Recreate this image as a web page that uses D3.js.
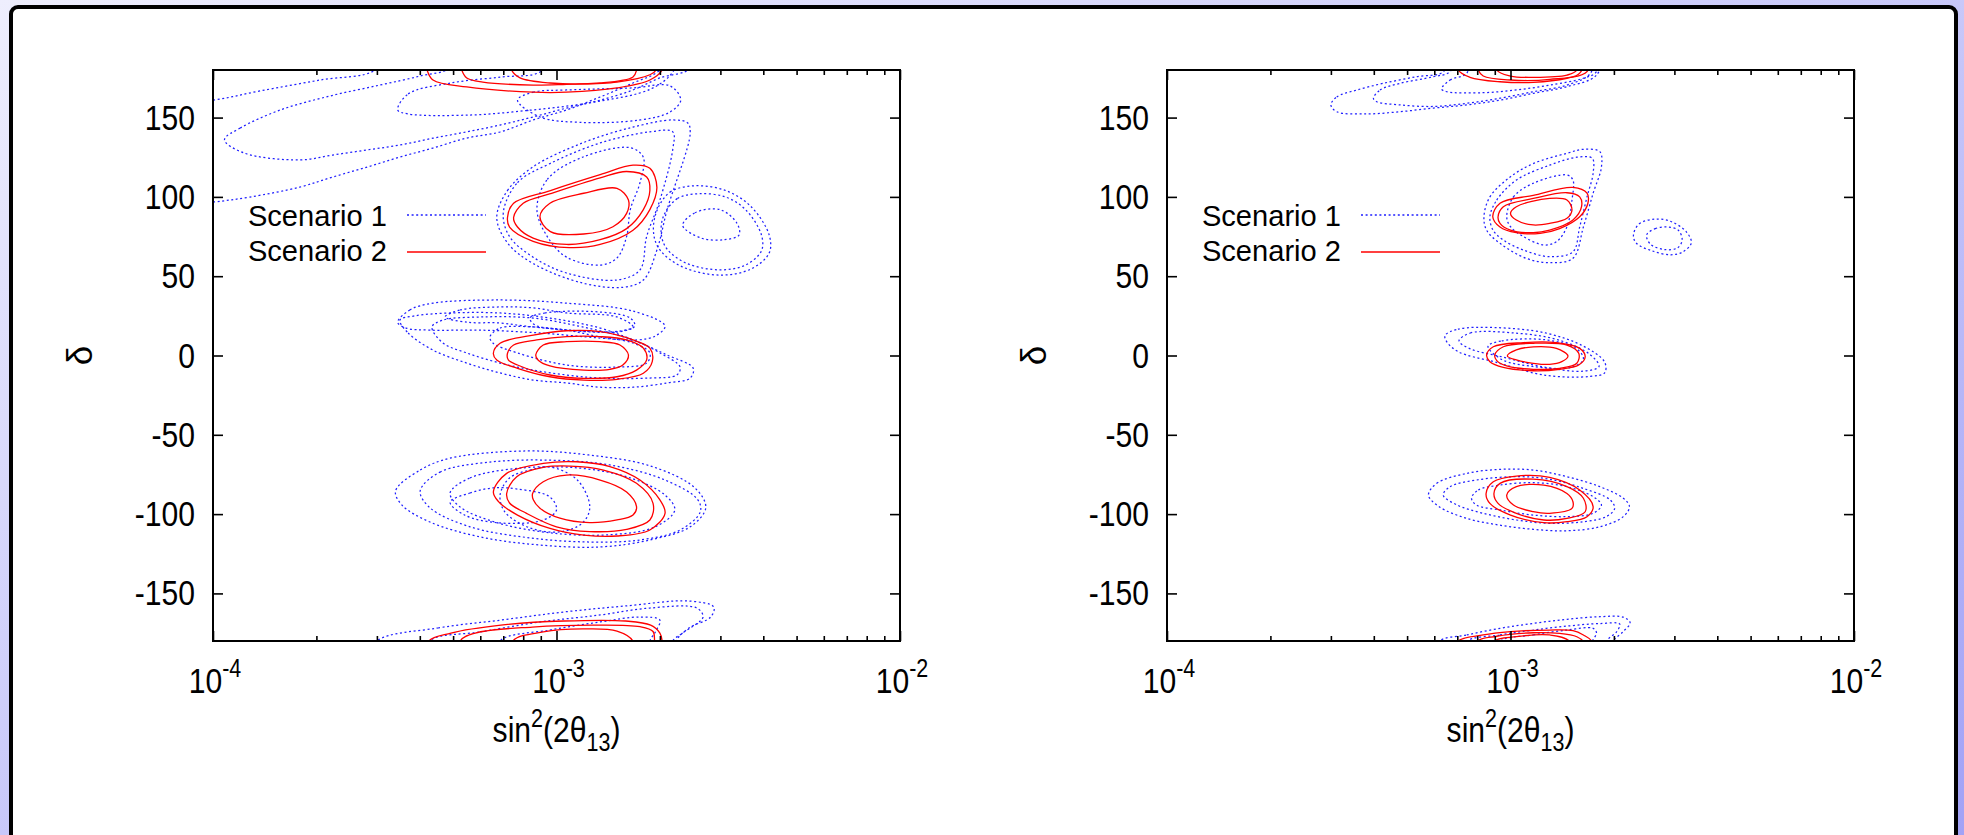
<!DOCTYPE html>
<html><head><meta charset="utf-8">
<script src="https://cdn.jsdelivr.net/npm/d3@7"></script>
<style>html,body{margin:0;padding:0;background:#fff}svg{display:block}</style>
</head><body>
<svg id="chart" width="1964" height="835"></svg>
<script>
// ---------------- DATA ----------------
// x values are sin^2(2θ13) in units of 1e-3, y values are δ in degrees
const UNIT = 1e-3;
const xMajorTicks = [1e-4, 1e-3, 1e-2];
const xTickExponents = ["-4", "-3", "-2"];
const yTicks = [-150, -100, -50, 0, 50, 100, 150];
const legendLabels = ["Scenario 1", "Scenario 2"];

// Left panel, Scenario 1 (blue dotted contours)
const leftScenario1 = [
  // top band
  [[0.07,158.6],[0.1,161],[0.137,166.8],[0.205,173.7],[0.296,180],[0.317,194],[0.07,194]],
  [[0.108,136],[0.12,143.4],[0.157,154.8],[0.219,163.6],[0.306,170.5],[0.401,176.2],[0.49,181.3],[0.52,194],[2.5,194],[2.45,181],[2.0,175],[1.67,167.4],[1.34,161],[1.07,156],[0.855,150.4],[0.685,145.3],[0.548,141],[0.437,137],[0.35,132.7],[0.281,129.6],[0.223,126.4],[0.179,123.3],[0.123,127.7]],
  [[0.07,95],[0.1,96.8],[0.128,99.9],[0.179,106.2],[0.223,112.5],[0.281,118.8],[0.35,125.1],[0.437,130.8],[0.548,137.1],[0.685,140.9],[0.855,148.5],[1.07,154.8],[1.34,163],[1.67,171.8],[2.0,180],[2.14,194],[0.07,194]],
  [[0.345,154.8],[0.37,164.9],[0.493,171.8],[0.689,175.6],[0.895,178.7],[1.023,194],[2.29,194],[2.18,178.7],[1.88,168],[1.29,159.8],[0.85,154.8],[0.56,151.6],[0.37,152.3]],
  [[0.77,161],[0.855,166],[1.07,167.4],[1.67,168.7],[2.14,170],[2.3,161],[2.14,153.5],[1.75,148.5],[1.17,147],[0.895,150.4]],
  // island near +90
  [[0.67,87],[0.72,104],[0.855,119],[1.19,134],[1.67,144],[2.18,148.5],[2.41,146.6],[2.45,140],[2.1,92],[1.96,66.5],[1.79,47.6],[1.56,43],[1.19,45.7],[0.855,58],[0.72,71]],
  [[0.7,90],[0.77,109],[0.957,121],[1.34,134],[1.87,141],[2.18,141],[2.18,130],[2.0,98],[1.83,75],[1.75,54],[1.5,47.6],[1.07,52],[0.855,62],[0.73,75]],
  [[0.877,92],[0.94,111],[1.19,125],[1.64,131],[1.79,125],[1.75,109],[1.64,92],[1.6,75],[1.5,61.5],[1.34,57],[1.07,62],[0.94,75]],
  // side island near +75
  [[1.95,90],[2.14,103],[2.53,107],[3.11,104],[3.68,94],[4.16,76],[4.16,64.6],[3.68,54.5],[2.99,50.7],[2.33,55.8],[2.01,66],[1.92,76]],
  [[2.05,88],[2.25,99],[2.6,102],[3.1,100],[3.55,92],[3.95,76],[3.95,66],[3.55,57],[2.99,54],[2.4,58],[2.1,67],[2.02,76]],
  [[2.33,82],[2.53,90],[2.99,92],[3.35,83.5],[3.4,76],[3.07,73],[2.64,74]],
  // island near 0
  [[0.345,21],[0.374,28.7],[0.437,33],[0.685,35],[1.07,33],[1.67,28],[2.07,18.6],[1.94,12.3],[1.72,9.8],[1.34,11],[0.895,14.2],[0.6,16],[0.428,16],[0.365,17.3]],
  [[0.474,24.3],[0.524,28.7],[0.685,30.6],[0.855,30],[1.07,26.8],[1.5,24.3],[1.67,18],[1.5,14.8],[0.855,18],[0.685,20.5],[0.548,21]],
  [[0.837,23.6],[0.925,26.8],[1.34,27.4],[1.64,23.6],[1.69,18.6],[1.53,15.4],[1.094,16],[0.866,19.2]],
  [[0.35,22.3],[0.37,14.2],[0.437,3.4],[0.548,-4.8],[0.685,-11],[0.855,-15.5],[1.07,-17.3],[1.34,-20],[1.67,-20],[2.1,-17.3],[2.45,-14.2],[2.5,-8],[2.1,0.3],[1.67,9.8],[1.34,17.3],[0.957,23.6],[0.685,26.8],[0.49,26.8],[0.387,25]],
  [[0.434,18],[0.467,7.9],[0.548,1.6],[0.685,-4.8],[0.855,-9.2],[1.07,-12.3],[1.34,-14.2],[1.87,-14.2],[2.24,-12.3],[2.29,-7.3],[2.0,1.6],[1.67,9.8],[1.19,18],[0.855,23.6],[0.61,24.3],[0.467,22.3]],
  [[0.64,11.7],[0.685,17.3],[0.855,18],[1.07,16],[1.34,11.7],[1.67,7.9],[1.87,1.6],[1.83,-4.8],[1.5,-7.3],[1.07,-6],[0.77,1.6],[0.653,7.9]],
  // island near -90
  [[0.34,-85.4],[0.401,-72.2],[0.493,-64.6],[0.815,-60.2],[1.24,-62.7],[1.88,-69.7],[2.53,-83.5],[2.72,-96],[2.45,-108],[1.87,-116.3],[1.34,-120.7],[0.895,-119.5],[0.6,-114.4],[0.428,-105],[0.355,-94.3]],
  [[0.401,-85.4],[0.458,-73.5],[0.64,-67.2],[0.957,-66],[1.43,-69],[2.07,-78.5],[2.58,-91],[2.62,-98.7],[2.29,-110],[1.75,-116.3],[1.25,-117.6],[0.837,-115],[0.56,-108],[0.428,-96]],
  [[0.49,-86.7],[0.56,-77.2],[0.783,-71],[1.17,-71],[1.64,-77.2],[2.07,-88],[2.21,-97.4],[1.94,-108],[1.43,-113],[0.957,-111.8],[0.662,-105],[0.524,-95.5]],
  [[0.49,-92.4],[0.56,-86.7],[0.653,-83.5],[0.77,-84.2],[0.957,-89.2],[1.0,-97.4],[0.915,-103.7],[0.685,-105.6],[0.54,-100.6]],
  [[0.73,-77.2],[0.837,-72.2],[0.957,-70.3],[1.15,-78.5],[1.25,-95.5],[1.19,-105.6],[1.023,-111.2],[0.837,-108.7],[0.708,-98.7],[0.685,-88]],
  // bottom band
  [[0.3,-180],[0.452,-171.8],[0.689,-166.8],[1.05,-161.7],[1.59,-157.9],[2.43,-154.8],[2.87,-158.6],[2.81,-164.9],[2.43,-171.8],[2.23,-180],[2.2,-194],[0.28,-194]],
  [[0.428,-180],[0.6,-174.3],[0.895,-168],[1.34,-163.6],[1.87,-159.2],[2.56,-159.2],[2.67,-164.9],[2.33,-175],[2.18,-180],[2.15,-194],[0.42,-194]],
  [[0.685,-180],[0.957,-173.1],[1.34,-168],[1.75,-164.9],[2.0,-166.8],[1.94,-174.3],[1.87,-180],[1.86,-194],[0.68,-194]]
];

// Left panel, Scenario 2 (red solid contours)
const leftScenario2 = [
  [[0.42,180],[0.437,173.7],[0.548,169.3],[0.855,166],[1.07,166],[1.5,168.7],[1.87,173.7],[2.03,180],[2.05,194],[0.41,194]],
  [[0.53,180],[0.548,175],[0.61,172.4],[0.855,170.5],[1.07,171],[1.5,172.4],[1.87,177],[1.95,180],[1.97,194],[0.52,194]],
  [[0.74,180],[0.783,175],[0.957,171.8],[1.34,171.8],[1.67,175.6],[1.71,180],[1.72,194],[0.73,194]],
  [[0.72,87],[0.75,96],[0.96,104],[1.34,114],[1.67,120],[1.87,118],[1.96,106],[1.87,92],[1.67,79],[1.34,70],[1.09,68],[0.855,72],[0.73,81]],
  [[0.75,87],[0.8,96],[0.96,102],[1.34,112],[1.6,116],[1.83,112.5],[1.87,104],[1.79,92],[1.6,80],[1.34,73],[1.07,70],[0.855,74],[0.77,81]],
  [[0.895,87.5],[0.957,96],[1.2,102.3],[1.5,105.4],[1.62,98],[1.6,89.6],[1.46,81.2],[1.2,76.6],[0.96,78.1]],
  [[0.655,1.4],[0.685,7.7],[0.856,12.9],[1.07,15.6],[1.34,15],[1.67,9.8],[1.87,4.6],[1.9,-3.9],[1.79,-11.2],[1.5,-15],[1.2,-15.5],[0.957,-13.4],[0.77,-8.1],[0.67,-2.8]],
  [[0.72,1.4],[0.75,6.6],[0.876,9.8],[1.07,11.9],[1.34,11.9],[1.6,9.8],[1.79,4.6],[1.83,-2.8],[1.71,-9.2],[1.5,-13.4],[1.2,-14.4],[0.957,-12.3],[0.77,-6],[0.724,-2.8]],
  [[0.87,0.3],[0.915,6.6],[1.07,8.7],[1.34,8.7],[1.53,6.6],[1.62,0.3],[1.56,-6],[1.43,-8.7],[1.2,-9.2],[0.957,-6.6],[0.885,-3]],
  [[0.655,-86],[0.716,-74.3],[0.915,-68],[1.145,-67],[1.43,-70],[1.75,-78.5],[2.0,-91],[2.07,-99.5],[1.87,-110],[1.5,-113.8],[1.2,-113.2],[0.957,-109],[0.77,-100.6],[0.677,-92]],
  [[0.716,-87],[0.766,-76.4],[0.915,-70.5],[1.094,-69.7],[1.37,-72.2],[1.71,-80.6],[1.91,-93.2],[1.87,-103.7],[1.6,-109.6],[1.25,-111],[1.0,-108],[0.818,-99.5],[0.73,-93]],
  [[0.852,-87],[0.915,-79.6],[1.07,-75.4],[1.34,-78.5],[1.6,-86],[1.71,-95.3],[1.67,-100.6],[1.5,-103.7],[1.25,-105.4],[1.023,-102.6],[0.895,-96.3],[0.856,-91]],
  [[0.425,-180],[0.493,-175],[0.689,-170],[1.05,-167.4],[1.59,-167.4],[1.88,-170],[2.0,-175],[2.03,-180],[2.04,-194],[0.42,-194]],
  [[0.524,-180],[0.58,-175],[0.85,-171.2],[1.29,-170],[1.75,-171],[1.91,-174],[1.93,-180],[1.94,-194],[0.52,-194]],
  [[0.747,-180],[0.915,-174.3],[1.19,-172.4],[1.5,-173.7],[1.67,-180],[1.68,-194],[0.74,-194]]
];

// Right panel, Scenario 1 (blue dotted contours)
const rightScenario1 = [
  [[0.30,158],[0.312,163],[0.357,167.4],[0.426,171.6],[0.533,175.8],[0.638,179],[0.667,194],[1.86,194],[1.78,176.8],[1.46,169.5],[1.165,165.3],[0.932,161],[0.746,158],[0.597,156],[0.477,153.7],[0.381,152.3],[0.312,153.7]],
  [[0.399,162],[0.417,167.4],[0.477,171.6],[0.597,175.8],[0.667,179],[0.7,194],[1.75,194],[1.71,178],[1.46,170.5],[1.165,166.3],[0.932,162.2],[0.746,159],[0.597,157],[0.477,158],[0.408,160]],
  [[0.63,168],[0.667,173.7],[0.746,178],[0.78,194],[1.8,194],[1.78,179],[1.63,174.8],[1.3,170.5],[1.04,167.4],[0.833,165.7],[0.652,166.3]],
  [[0.837,87.5],[0.871,100],[1.0,112.7],[1.165,121],[1.46,127.5],[1.63,130],[1.82,128.5],[1.84,119],[1.74,102.3],[1.63,81],[1.52,61.3],[1.3,58.5],[1.11,61.3],[0.932,70.7],[0.852,79]],
  [[0.871,87.5],[0.912,98],[1.04,110.6],[1.3,120],[1.56,125],[1.73,124.3],[1.74,115],[1.67,100],[1.59,81],[1.52,65.4],[1.3,62.3],[1.09,66.5],[0.953,72.8],[0.89,79]],
  [[0.975,87.5],[1.02,100],[1.165,108.6],[1.46,113.8],[1.52,110.6],[1.51,98],[1.46,81.2],[1.36,71.7],[1.25,69.7],[1.09,75],[1.0,81.2]],
  [[2.28,76],[2.37,83],[2.64,86],[2.93,84.5],[3.25,78],[3.36,71],[3.18,65.4],[2.93,63.5],[2.58,66],[2.32,71]],
  [[2.49,76],[2.64,80],[2.87,81],[3.08,79],[3.16,72.8],[3.06,67.8],[2.81,66.8],[2.56,70]],
  [[0.645,12.7],[0.703,16.6],[0.905,17.6],[1.265,14.2],[1.63,5.9],[1.88,-4.2],[1.88,-10.9],[1.7,-13.2],[1.265,-12.5],[0.905,-4.2],[0.703,2.5],[0.65,9.2]],
  [[0.708,9.2],[0.764,14.2],[1.025,14.2],[1.375,9.9],[1.7,0.8],[1.81,-6.9],[1.63,-9.9],[1.265,-7.5],[0.943,-0.8],[0.764,4.2]],
  [[0.86,5.9],[0.943,9.2],[1.265,9.9],[1.56,4.2],[1.63,-2.5],[1.5,-7.5],[1.16,-6.9],[0.943,-2.5]],
  [[0.577,-88],[0.61,-80.6],[0.746,-74.3],[0.932,-71.8],[1.165,-72.2],[1.46,-76.4],[1.82,-82.7],[2.13,-90],[2.22,-95.3],[2.13,-101.6],[1.82,-108],[1.46,-110.5],[1.165,-109.6],[0.932,-107],[0.746,-102.7],[0.62,-95.3]],
  [[0.637,-88],[0.667,-82.7],[0.797,-78.5],[1.04,-76.4],[1.3,-78],[1.63,-83.8],[1.95,-91],[2.01,-96.4],[1.9,-101.6],[1.63,-104.8],[1.3,-105.8],[1.04,-103.7],[0.833,-99.5],[0.7,-94.3]],
  [[0.77,-90],[0.806,-84.8],[0.932,-81.7],[1.165,-80.2],[1.46,-82.7],[1.74,-89],[1.84,-94.3],[1.74,-99.5],[1.46,-101.6],[1.165,-100.6],[0.932,-97.4],[0.797,-94.3]],
  [[0.617,-180.5],[0.746,-176.2],[0.932,-172],[1.165,-168.9],[1.46,-166.3],[1.82,-164.7],[2.13,-165],[2.23,-168.5],[2.13,-174],[1.99,-180.4],[1.98,-194],[0.6,-194]],
  [[0.746,-180.5],[0.932,-176.2],[1.165,-173.1],[1.46,-170.6],[1.82,-169],[2.08,-169.3],[2.04,-174],[1.9,-180.5],[1.89,-194],[0.74,-194]],
  [[0.932,-180.5],[1.165,-176.2],[1.46,-173.1],[1.74,-172],[1.78,-175],[1.73,-180.5],[1.72,-194],[0.93,-194]]
];

// Right panel, Scenario 2 (red solid contours)
const rightScenario2 = [
  [[0.705,180],[0.762,175.4],[0.932,172.6],[1.165,172.2],[1.46,174.8],[1.67,179],[1.7,194],[0.7,194]],
  [[0.806,180],[0.833,176.2],[1.0,173.7],[1.3,174.1],[1.59,178],[1.62,194],[0.8,194]],
  [[0.912,180],[1.0,176.2],[1.165,175.4],[1.46,176.8],[1.56,180],[1.56,194],[0.91,194]],
  [[0.888,87.5],[0.932,96],[1.165,101],[1.52,106],[1.67,102.3],[1.68,96],[1.59,87.5],[1.39,80],[1.22,77],[1.04,77.4],[0.932,81]],
  [[0.92,87.5],[0.953,93.8],[1.165,99],[1.46,102.6],[1.59,100],[1.61,93.8],[1.52,85.4],[1.3,79],[1.165,77.4],[1.0,79],[0.932,83.3]],
  [[1.0,89.6],[1.04,93.8],[1.3,99],[1.46,98],[1.51,91.7],[1.46,86.5],[1.3,83.3],[1.165,82.3],[1.04,85.4]],
  [[0.852,0.3],[0.891,5.5],[1.09,8.1],[1.36,8.1],[1.59,4.5],[1.65,-0.8],[1.58,-6],[1.39,-8.7],[1.165,-9.6],[0.953,-7.5],[0.871,-3.9]],
  [[0.9,0.3],[0.953,5.5],[1.165,7.7],[1.46,6.6],[1.58,1.4],[1.56,-4.9],[1.39,-8.1],[1.165,-8.7],[0.975,-6.6],[0.912,-3.2]],
  [[0.979,-0.3],[1.04,3.5],[1.165,5.5],[1.36,4.5],[1.47,-0.3],[1.41,-3.9],[1.3,-5.6],[1.165,-4.9],[1.04,-2.8]],
  [[0.849,-87],[0.891,-79.6],[1.04,-76],[1.3,-76.8],[1.59,-84.8],[1.74,-95.3],[1.67,-101.6],[1.46,-104.8],[1.25,-105.4],[1.0,-100.6],[0.871,-93.2]],
  [[0.895,-87],[0.932,-80.6],[1.165,-78],[1.46,-82.7],[1.63,-90],[1.65,-98.5],[1.46,-102.7],[1.25,-103.7],[1.04,-99.5],[0.92,-93.2]],
  [[0.975,-88],[1.04,-82.7],[1.25,-81.7],[1.46,-87],[1.52,-92.2],[1.51,-96.4],[1.3,-99.5],[1.165,-98.5],[1.02,-94.3]],
  [[0.7,-180.5],[0.833,-176.2],[1.0,-174.1],[1.3,-173.1],[1.52,-173.5],[1.63,-176.2],[1.73,-180.5],[1.74,-194],[0.69,-194]],
  [[0.797,-180.5],[0.912,-177],[1.165,-174.8],[1.39,-175.2],[1.56,-177.3],[1.63,-180.5],[1.64,-194],[0.79,-194]],
  [[0.891,-180.5],[1.04,-177.3],[1.3,-176.2],[1.49,-180.5],[1.5,-194],[0.88,-194]]
];

// ---------------- DRAWING ----------------
const W = 1964, H = 835;
const svg = d3.select("#chart");
const defs = svg.append("defs");
const grad = defs.append("linearGradient").attr("id","bg").attr("x1","0").attr("y1","0").attr("x2","1").attr("y2","1");
grad.append("stop").attr("offset","0").attr("stop-color","#eeeefd");
grad.append("stop").attr("offset","1").attr("stop-color","#a2a2f6");
svg.append("rect").attr("width",W).attr("height",H).attr("fill","url(#bg)");
svg.append("rect").attr("x",11).attr("y",7).attr("width",1945).attr("height",900)
  .attr("rx",7).attr("fill","#fff").attr("stroke","#000").attr("stroke-width",4);

const FONT = "'Liberation Sans', Arial, Helvetica, sans-serif";
const SX = 0.86;
const BLUE = "#1f1fff", RED = "#ff0000";
const DASH = "2,2.6";

const panels = [
  {x0:213, x1:900, s1:leftScenario1, s2:leftScenario2, id:"L"},
  {x0:1167, x1:1854, s1:rightScenario1, s2:rightScenario2, id:"R"}
];
const Y0 = 70, Y1 = 641;

const minorTicks = [];
[1e-4,1e-3].forEach(b => { for (let k=2;k<=9;k++) minorTicks.push(b*k); });

function addText(g, x, y, anchor, size, sx) {
  return g.append("text")
    .attr("transform", `translate(${x},${y}) scale(${sx||SX},1)`)
    .attr("text-anchor", anchor)
    .attr("font-family", FONT)
    .attr("font-size", size)
    .attr("fill", "#000");
}

panels.forEach(p => {
  const x = d3.scaleLog().domain([1e-4, 1e-2]).range([p.x0, p.x1]);
  const y = d3.scaleLinear().domain([-180, 180]).range([Y1, Y0]);
  const g = svg.append("g");

  defs.append("clipPath").attr("id","clip"+p.id)
    .append("rect").attr("x",p.x0).attr("y",Y0).attr("width",p.x1-p.x0).attr("height",Y1-Y0);

  const line = d3.line()
    .x(d => x(d[0]*UNIT)).y(d => y(d[1]))
    .curve(d3.curveCatmullRomClosed.alpha(0.5));

  const plot = g.append("g").attr("clip-path", `url(#clip${p.id})`);
  plot.selectAll("path.s1").data(p.s1).join("path").attr("class","s1")
    .attr("d", line).attr("fill","none").attr("stroke",BLUE)
    .attr("stroke-width",1.25).attr("stroke-dasharray",DASH);
  plot.selectAll("path.s2").data(p.s2).join("path").attr("class","s2")
    .attr("d", line).attr("fill","none").attr("stroke",RED)
    .attr("stroke-width",1.3);

  // axes (ticks inward, mirrored)
  const styleAxis = sel => { sel.select(".domain").remove(); sel.selectAll("line").attr("stroke","#000").attr("stroke-width",1.6); sel.selectAll("text").remove(); };
  g.append("g").attr("transform",`translate(0,${Y1})`).call(d3.axisBottom(x).tickValues(xMajorTicks).tickSize(-10).tickFormat("")).call(styleAxis);
  g.append("g").attr("transform",`translate(0,${Y1})`).call(d3.axisBottom(x).tickValues(minorTicks).tickSize(-5).tickFormat("")).call(styleAxis);
  g.append("g").attr("transform",`translate(0,${Y0})`).call(d3.axisTop(x).tickValues(xMajorTicks).tickSize(-10).tickFormat("")).call(styleAxis);
  g.append("g").attr("transform",`translate(0,${Y0})`).call(d3.axisTop(x).tickValues(minorTicks).tickSize(-5).tickFormat("")).call(styleAxis);
  g.append("g").attr("transform",`translate(${p.x0},0)`).call(d3.axisLeft(y).tickValues(yTicks).tickSize(-10).tickFormat("")).call(styleAxis);
  g.append("g").attr("transform",`translate(${p.x1},0)`).call(d3.axisRight(y).tickValues(yTicks).tickSize(-10).tickFormat("")).call(styleAxis);

  g.append("rect").attr("x",p.x0).attr("y",Y0).attr("width",p.x1-p.x0).attr("height",Y1-Y0)
    .attr("fill","none").attr("stroke","#000").attr("stroke-width",2);

  // y tick labels
  yTicks.forEach(v => {
    addText(g, p.x0-18, y(v)+12, "end", 35).text(v);
  });
  // x tick labels
  xMajorTicks.forEach((v,i) => {
    const t = addText(g, x(v)+2, 693, "middle", 35);
    t.append("tspan").text("10");
    t.append("tspan").attr("dy",-16).attr("font-size",25).text(xTickExponents[i]);
  });
  // axis titles
  const xc = (p.x0+p.x1)/2;
  const xt = addText(g, xc, 742, "middle", 35);
  xt.append("tspan").text("sin");
  xt.append("tspan").attr("dy",-15).attr("font-size",25).text("2");
  xt.append("tspan").attr("dy",15).text("(2θ");
  xt.append("tspan").attr("dy",9).attr("font-size",25).text("13");
  xt.append("tspan").attr("dy",-9).text(")");

  g.append("text").attr("transform",`translate(${p.x0-121},${(Y0+Y1)/2}) rotate(-90)`)
    .attr("text-anchor","middle").attr("font-family",FONT).attr("font-size",35).text("δ");

  // legend
  const lx = p.x0 + 174;
  addText(g, lx, 226, "end", 30, 0.97).text(legendLabels[0]);
  addText(g, lx, 261, "end", 30, 0.97).text(legendLabels[1]);
  g.append("line").attr("x1",lx+20).attr("x2",lx+99).attr("y1",215).attr("y2",215)
    .attr("stroke",BLUE).attr("stroke-width",1.3).attr("stroke-dasharray",DASH);
  g.append("line").attr("x1",lx+20).attr("x2",lx+99).attr("y1",252).attr("y2",252)
    .attr("stroke",RED).attr("stroke-width",1.3);
});
</script>
</body></html>
